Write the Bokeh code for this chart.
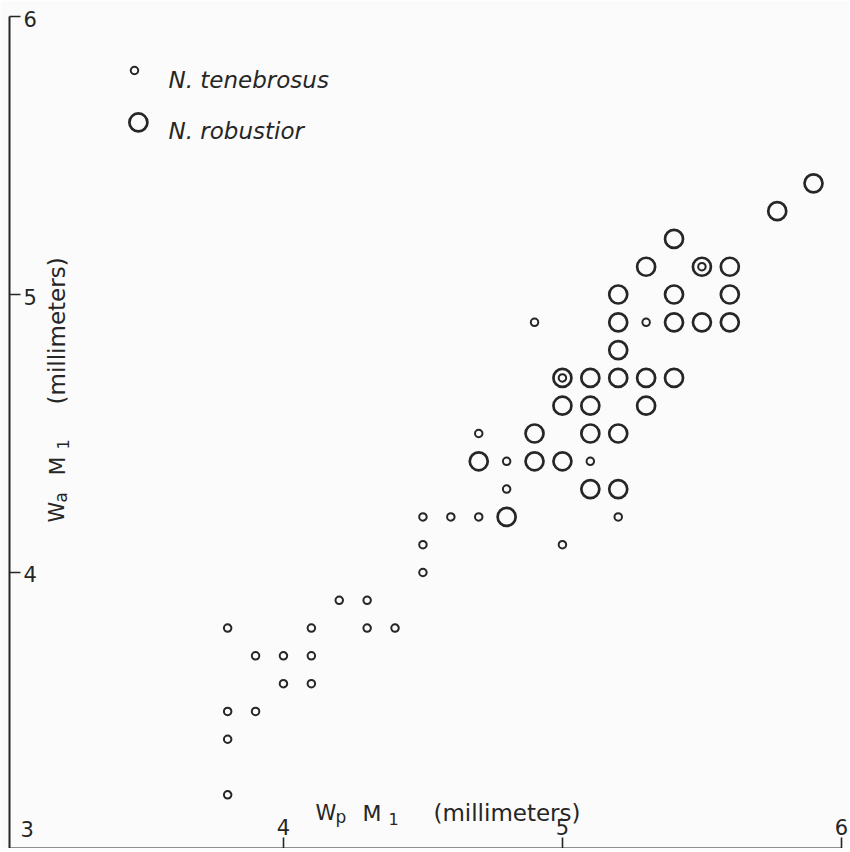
import math
from bokeh.plotting import figure
from bokeh.models import Range1d, FixedTicker
from bokeh.embed import file_html
from bokeh.resources import INLINE
from bokeh.core.properties import value

# ---------------- data ----------------
# N. tenebrosus (small circles): Wp M1 (x) and Wa M1 (y), millimeters
TEN_X = [3.8, 3.8, 3.8, 3.9, 4.0, 4.1, 3.9, 4.0, 4.1, 3.8, 4.1, 4.3, 4.4, 4.2, 4.3,
         4.5, 4.5, 5.0, 4.5, 4.6, 4.7, 5.2, 4.8, 4.8, 5.1, 4.7, 5.0, 5.5, 4.9, 5.3]
TEN_Y = [3.2, 3.4, 3.5, 3.5, 3.6, 3.6, 3.7, 3.7, 3.7, 3.8, 3.8, 3.8, 3.8, 3.9, 3.9,
         4.0, 4.1, 4.1, 4.2, 4.2, 4.2, 4.2, 4.3, 4.4, 4.4, 4.5, 4.7, 5.1, 4.9, 4.9]

# N. robustior (large circles)
ROB_X = [5.9, 5.77, 5.4, 5.3, 5.5, 5.6, 5.2, 5.4, 5.6, 5.2, 5.4, 5.5, 5.6, 5.2, 5.0,
         5.1, 5.2, 5.3, 5.4, 5.0, 5.1, 5.3, 4.9, 5.1, 5.2, 4.7, 4.9, 5.0, 5.1, 5.2, 4.8]
ROB_Y = [5.4, 5.3, 5.2, 5.1, 5.1, 5.1, 5.0, 5.0, 5.0, 4.9, 4.9, 4.9, 4.9, 4.8, 4.7,
         4.7, 4.7, 4.7, 4.7, 4.6, 4.6, 4.6, 4.5, 4.5, 4.5, 4.4, 4.4, 4.4, 4.3, 4.3, 4.2]

X_TICKS = [4, 5, 6]
Y_TICKS = [4, 5, 6]
X_TICK_LABELS = ["4", "5", "6"]
Y_TICK_LABELS = ["4", "5", "6"]
ORIGIN_LABEL = "3"
LEGEND_LABELS = ["N. tenebrosus", "N. robustior"]
X_TITLE_PARTS = ["W", "p", "M", "1", "(millimeters)"]
Y_TITLE_PARTS = ["W", "a", "M", "1", "(millimeters)"]

# ---------------- layout / style ----------------
X_START, X_END = 3.018, 6.029
Y_START, Y_END = 3.007, 6.029
INK = "#262626"
BG = "#fbfbfb"
FONT = value("DejaVu Sans")

p = figure(frame_width=840, frame_height=840,
           x_range=Range1d(X_START, X_END), y_range=Range1d(Y_START, Y_END),
           output_backend="svg", toolbar_location=None,
           min_border_left=9, min_border_right=0, min_border_top=8, min_border_bottom=0,
           background_fill_color=BG, border_fill_color=BG, outline_line_color=None)
p.grid.visible = False

for ax, ticks in ((p.xaxis[0], X_TICKS), (p.yaxis[0], Y_TICKS)):
    ax.ticker = FixedTicker(ticks=ticks)
    ax.major_tick_in = 11
    ax.major_tick_out = 0
    ax.minor_tick_line_color = None
    ax.major_label_text_font_size = "0px"
    ax.major_label_text_color = None
    ax.major_label_standoff = 0
    ax.axis_line_width = 2
    ax.axis_line_color = INK
    ax.major_tick_line_width = 1.6
    ax.major_tick_line_color = INK
p.xaxis[0].bounds = (X_START, 6.0)
p.yaxis[0].bounds = (Y_START, 6.0)

# tick labels (inside the axes, as in the original)
p.text(x=X_TICKS, y=[Y_START] * len(X_TICKS), text=X_TICK_LABELS,
       x_offset=0, y_offset=-22, text_align="center", text_baseline="middle",
       text_font=FONT, text_font_size="21px", text_color=INK)
p.text(x=[X_START] * len(Y_TICKS), y=Y_TICKS, text=Y_TICK_LABELS,
       x_offset=14, y_offset=2, text_align="left", text_baseline="middle",
       text_font=FONT, text_font_size="21px", text_color=INK)
p.text(x=[X_START], y=[Y_START], text=[ORIGIN_LABEL],
       x_offset=11, y_offset=-20, text_align="left", text_baseline="middle",
       text_font=FONT, text_font_size="21px", text_color=INK)

# axis titles built from pieces (letters with subscripts)
PART_OFFS = [0, 20, 47, 73, 118]
PART_SHIFT = [0, 4, 0, 6, 0]
PART_SIZES = ["21px", "17px", "22px", "16px", "23px"]

for txt, off, sh, sz in zip(X_TITLE_PARTS, PART_OFFS, PART_SHIFT, PART_SIZES):
    p.text(x=[4.1147], y=[3.1331], text=[txt], x_offset=off, y_offset=sh,
           text_align="left", text_baseline="alphabetic",
           text_font=FONT, text_font_size=sz, text_color=INK)

for txt, off, sh, sz in zip(Y_TITLE_PARTS, PART_OFFS, PART_SHIFT, PART_SIZES):
    p.text(x=[3.190], y=[4.180], text=[txt], x_offset=sh, y_offset=-off,
           angle=math.pi / 2, text_align="left", text_baseline="alphabetic",
           text_font=FONT, text_font_size=sz, text_color=INK)

# data points
p.scatter(ROB_X, ROB_Y, marker="circle", size=18, fill_color=None,
          line_color=INK, line_width=2.7)
p.scatter(TEN_X, TEN_Y, marker="circle", size=7.5, fill_color=None,
          line_color=INK, line_width=2.0)

# legend (drawn by hand to keep the two marker sizes)
p.scatter([3.466], [5.806], marker="circle", size=7.5, fill_color=None,
          line_color=INK, line_width=2.0)
p.scatter([3.480], [5.619], marker="circle", size=18, fill_color=None,
          line_color=INK, line_width=2.7)
p.text(x=[3.588, 3.588], y=[5.770, 5.590], text=LEGEND_LABELS,
       text_align="left", text_baseline="alphabetic", text_font=FONT,
       text_font_size="23px", text_font_style="italic", text_color=INK)

open("out.html", "w").write(file_html(p, INLINE))
